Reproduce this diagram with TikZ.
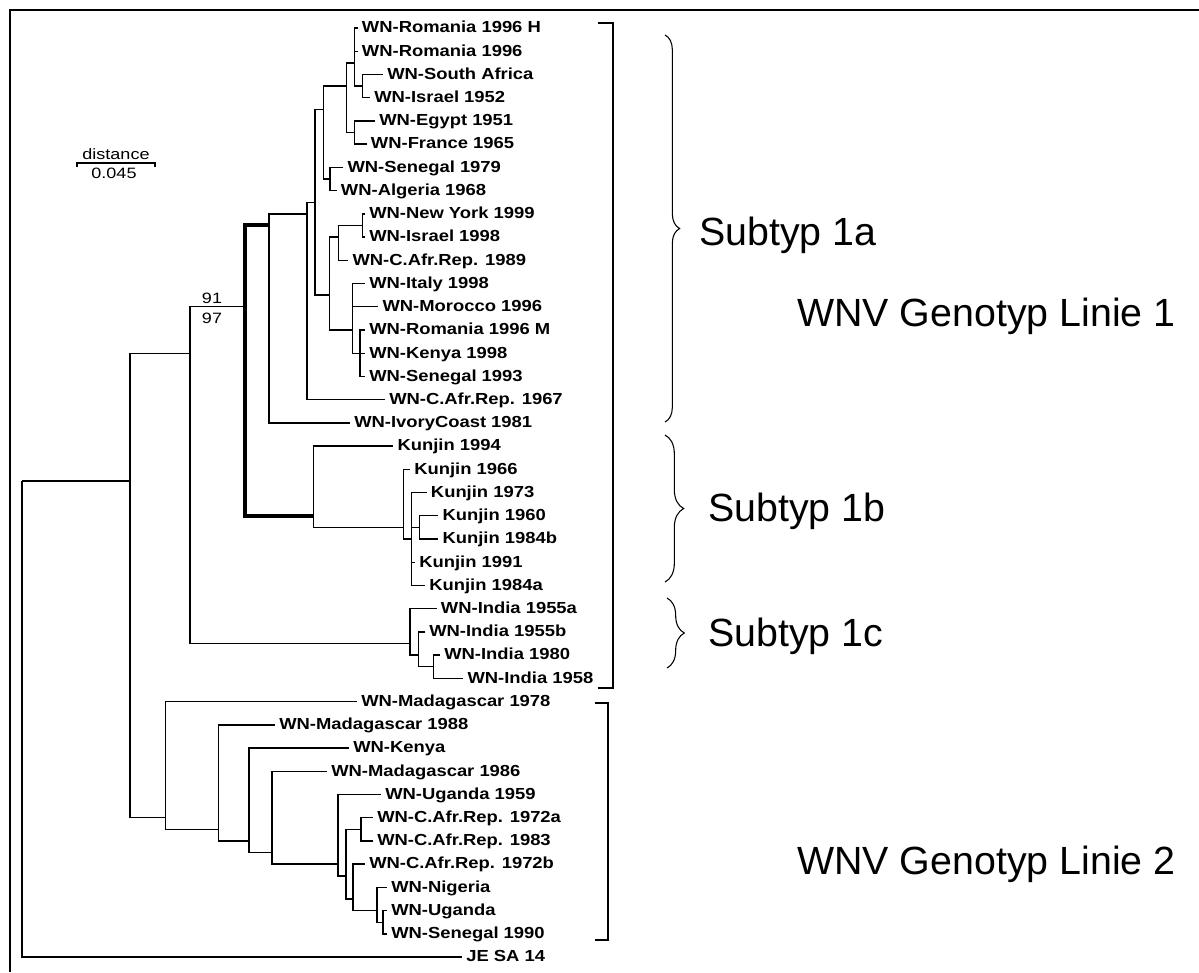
\documentclass[tikz,border=0pt]{standalone}
\usepackage{fontspec}
\setmainfont{Liberation Sans}
\newfontfamily\labfont[FakeStretch=1.15]{Liberation Sans}
\newfontfamily\smallfont[FakeStretch=1.2]{Liberation Sans}
\newfontfamily\bigfont{Liberation Sans}
\usetikzlibrary{decorations.pathreplacing}
\tikzset{
  tree/.style={line width=1.05pt},
  thickbranch/.style={line width=3pt},
  lab/.style={anchor=west, inner sep=0pt, xshift=3pt, text height=0.72em, text depth=0pt,
    font=\labfont\bfseries\fontsize{12}{13}\selectfont},
  small/.style={inner sep=0pt, font=\smallfont\fontsize{11.25}{12}\selectfont},
  bracketline/.style={line width=1.5pt},
  curly/.style={line width=0.8pt, decorate, decoration={brace, amplitude=#1}},
  grouplab/.style={anchor=base west, inner sep=0pt, font=\bigfont\fontsize{29.5}{32}\selectfont},
}
\begin{document}
\begin{tikzpicture}[x=0.75pt,y=-0.75pt]
\useasboundingbox (0,0) rectangle (1199,972);
% frame
\draw[line width=1.9pt] (10,972) -- (10,10) -- (1199,10);

% internal nodes
\coordinate (root) at (22,480.9);
\coordinate (L) at (130,480.9);
\coordinate (M) at (190,353.2);
\coordinate (G) at (245,306.7);
\coordinate (F) at (269,225.4);
\coordinate (E) at (307,213.8);
\coordinate (D) at (315,202.2);
\coordinate (a6) at (323.3,109.3);
\coordinate (a4) at (346.7,86.1);
\coordinate (a1) at (354.3,62.9);
\coordinate (a2) at (362.3,86.1);
\coordinate (a3) at (354.3,132.5);
\coordinate (a5) at (330,179.0);
\coordinate (b1) at (329.3,295.1);
\coordinate (b3) at (338.3,237.0);
\coordinate (b2) at (362.3,225.4);
\coordinate (b4) at (352.7,330.0);
\coordinate (b5) at (360,353.2);
\coordinate (K) at (313.3,515.7);
\coordinate (k1) at (403.3,527.4);
\coordinate (k2) at (411.7,539.0);
\coordinate (k4) at (419.3,527.4);
\coordinate (I) at (410,643.5);
\coordinate (i2) at (418.3,655.1);
\coordinate (i3) at (433.3,666.7);
\coordinate (L2) at (165.6,817.7);
\coordinate (L3) at (218.6,829.3);
\coordinate (L4) at (249,840.9);
\coordinate (L5) at (272,852.5);
\coordinate (L6) at (338,864.1);
\coordinate (L7) at (346,875.8);
\coordinate (L8) at (361,829.3);
\coordinate (L9) at (353,899.0);
\coordinate (L10) at (377,910.6);
\coordinate (L11) at (383,922.2);

% leaf tips
\coordinate (t1) at (357.7,28.0);
\coordinate (t2) at (357.7,51.2);
\coordinate (t3) at (383,74.5);
\coordinate (t4) at (370,97.7);
\coordinate (t5) at (375,120.9);
\coordinate (t6) at (366.7,144.1);
\coordinate (t7) at (343.3,167.4);
\coordinate (t8) at (336.7,190.6);
\coordinate (t9) at (365,213.8);
\coordinate (t10) at (365,237.0);
\coordinate (t11) at (348.3,260.3);
\coordinate (t12) at (365,283.5);
\coordinate (t13) at (378.3,306.7);
\coordinate (t14) at (365,329.9);
\coordinate (t15) at (365,353.2);
\coordinate (t16) at (365,376.4);
\coordinate (t17) at (385,399.6);
\coordinate (t18) at (350,422.8);
\coordinate (t19) at (393.3,446.1);
\coordinate (t20) at (410,469.3);
\coordinate (t21) at (426.7,492.5);
\coordinate (t22) at (438.3,515.7);
\coordinate (t23) at (438.3,539.0);
\coordinate (t24) at (415,562.2);
\coordinate (t25) at (425,585.4);
\coordinate (t26) at (436.7,608.6);
\coordinate (t27) at (425,631.9);
\coordinate (t28) at (440,655.1);
\coordinate (t29) at (463.3,678.3);
\coordinate (t30) at (357,701.5);
\coordinate (t31) at (275,724.8);
\coordinate (t32) at (349,748.0);
\coordinate (t33) at (327,771.2);
\coordinate (t34) at (381,794.4);
\coordinate (t35) at (373,817.7);
\coordinate (t36) at (373,840.9);
\coordinate (t37) at (365,864.1);
\coordinate (t38) at (387,887.3);
\coordinate (t39) at (387,910.6);
\coordinate (t40) at (387,933.8);
\coordinate (t41) at (462,957.0);

% labels
\node[lab] (n1) at (t1) {WN-Romania 1996 H};
\node[lab] (n2) at (t2) {WN-Romania 1996};
\node[lab] (n3) at (t3) {WN-South Africa};
\node[lab] (n4) at (t4) {WN-Israel 1952};
\node[lab] (n5) at (t5) {WN-Egypt 1951};
\node[lab] (n6) at (t6) {WN-France 1965};
\node[lab] (n7) at (t7) {WN-Senegal 1979};
\node[lab] (n8) at (t8) {WN-Algeria 1968};
\node[lab] (n9) at (t9) {WN-New York 1999};
\node[lab] (n10) at (t10) {WN-Israel 1998};
\node[lab] (n11) at (t11) {WN-C.Afr.Rep. 1989};
\node[lab] (n12) at (t12) {WN-Italy 1998};
\node[lab] (n13) at (t13) {WN-Morocco 1996};
\node[lab] (n14) at (t14) {WN-Romania 1996 M};
\node[lab] (n15) at (t15) {WN-Kenya 1998};
\node[lab] (n16) at (t16) {WN-Senegal 1993};
\node[lab] (n17) at (t17) {WN-C.Afr.Rep. 1967};
\node[lab] (n18) at (t18) {WN-IvoryCoast 1981};
\node[lab] (n19) at (t19) {Kunjin 1994};
\node[lab] (n20) at (t20) {Kunjin 1966};
\node[lab] (n21) at (t21) {Kunjin 1973};
\node[lab] (n22) at (t22) {Kunjin 1960};
\node[lab] (n23) at (t23) {Kunjin 1984b};
\node[lab] (n24) at (t24) {Kunjin 1991};
\node[lab] (n25) at (t25) {Kunjin 1984a};
\node[lab] (n26) at (t26) {WN-India 1955a};
\node[lab] (n27) at (t27) {WN-India 1955b};
\node[lab] (n28) at (t28) {WN-India 1980};
\node[lab] (n29) at (t29) {WN-India 1958};
\node[lab] (n30) at (t30) {WN-Madagascar 1978};
\node[lab] (n31) at (t31) {WN-Madagascar 1988};
\node[lab] (n32) at (t32) {WN-Kenya};
\node[lab] (n33) at (t33) {WN-Madagascar 1986};
\node[lab] (n34) at (t34) {WN-Uganda 1959};
\node[lab] (n35) at (t35) {WN-C.Afr.Rep. 1972a};
\node[lab] (n36) at (t36) {WN-C.Afr.Rep. 1983};
\node[lab] (n37) at (t37) {WN-C.Afr.Rep. 1972b};
\node[lab] (n38) at (t38) {WN-Nigeria};
\node[lab] (n39) at (t39) {WN-Uganda};
\node[lab] (n40) at (t40) {WN-Senegal 1990};
\node[lab] (n41) at (t41) {JE SA 14};

% branches: subtype 1a
\draw[tree] (a1) |- (t1);
\draw[tree] (a1) |- (t2);
\draw[tree] (a1) |- (a2);
\draw[tree] (a2) |- (t3);
\draw[tree] (a2) |- (t4);
\draw[tree] (a3) |- (t5);
\draw[tree] (a3) |- (t6);
\draw[tree] (a4) |- (a1);
\draw[tree] (a4) |- (a3);
\draw[tree] (a5) |- (t7);
\draw[tree] (a5) |- (t8);
\draw[tree] (a6) |- (a4);
\draw[tree] (a6) |- (a5);
\draw[tree] (b2) |- (t9);
\draw[tree] (b2) |- (t10);
\draw[tree] (b3) |- (b2);
\draw[tree] (b3) |- (t11);
\draw[tree] (b4) |- (t12);
\draw[tree] (b4) |- (t13);
\draw[tree] (b4) |- (b5);
\draw[tree] (b5) |- (t14);
\draw[tree] (b5) |- (t15);
\draw[tree] (b5) |- (t16);
\draw[tree] (b1) |- (b3);
\draw[tree] (b1) |- (b4);
\draw[tree] (D) |- (a6);
\draw[tree] (D) |- (b1);
\draw[tree] (E) |- (D);
\draw[tree] (E) |- (t17);
\draw[tree] (F) |- (E);
\draw[tree] (F) |- (t18);
% subtype 1b
\draw[tree] (K) |- (t19);
\draw[tree] (K) |- (k1);
\draw[tree] (k1) |- (t20);
\draw[tree] (k1) |- (k2);
\draw[tree] (k2) |- (t21);
\draw[tree] (k2) |- (k4);
\draw[tree] (k2) |- (t24);
\draw[tree] (k2) |- (t25);
\draw[tree] (k4) |- (t22);
\draw[tree] (k4) |- (t23);
% thick branch
\draw[thickbranch] (F) -| (G) |- (K);
% subtype 1c
\draw[tree] (I) |- (t26);
\draw[tree] (I) |- (i2);
\draw[tree] (i2) |- (t27);
\draw[tree] (i2) |- (i3);
\draw[tree] (i3) |- (t28);
\draw[tree] (i3) |- (t29);
\draw[tree] (M) |- (G);
\draw[tree] (M) |- (I);
% lineage 2
\draw[tree] (L2) |- (t30);
\draw[tree] (L2) |- (L3);
\draw[tree] (L3) |- (t31);
\draw[tree] (L3) |- (L4);
\draw[tree] (L4) |- (t32);
\draw[tree] (L4) |- (L5);
\draw[tree] (L5) |- (t33);
\draw[tree] (L5) |- (L6);
\draw[tree] (L6) |- (t34);
\draw[tree] (L6) |- (L7);
\draw[tree] (L7) |- (L8);
\draw[tree] (L7) |- (L9);
\draw[tree] (L8) |- (t35);
\draw[tree] (L8) |- (t36);
\draw[tree] (L9) |- (t37);
\draw[tree] (L9) |- (L10);
\draw[tree] (L10) |- (t38);
\draw[tree] (L10) |- (L11);
\draw[tree] (L11) |- (t39);
\draw[tree] (L11) |- (t40);
% backbone
\draw[tree] (L) |- (M);
\draw[tree] (L) |- (L2);
\draw[tree] (root) -- (L);
\draw[tree] (root) |- (t41);

% bootstrap values
\node[small] (bs1) at (212,298) {91};
\node[small] (bs2) at (212,318) {97};

% scale bar
\coordinate (sb1) at (77,163);
\coordinate (sb2) at (155,163);
\draw[line width=0.9pt] ([yshift=-3pt]sb1) -- (sb1) -- (sb2) -- ([yshift=-3pt]sb2);
\node[small] (dist) at (116,154) {distance};
\node[small] (dval) at (114,173) {0.045};

% brackets
\draw[bracketline] (598,23) -- (613,23) -- (613,688) -- (598,688);
\draw[bracketline] (595,703) -- (608,703) -- (608,940) -- (595,940);

% braces
\draw[curly=11pt] (665,35) -- (665,422);
\draw[curly=14pt] (665,435) -- (665,582);
\draw[curly=13pt] (667,598) -- (667,668);

% group labels
\node[grouplab] (s1a) at (699,245) {Subtyp 1a};
\node[grouplab] (s1b) at (708,521) {Subtyp 1b};
\node[grouplab] (s1c) at (708,646) {Subtyp 1c};
\node[grouplab] (g1) at (797,326) {WNV Genotyp Linie 1};
\node[grouplab] (g2) at (797,874) {WNV Genotyp Linie 2};
\end{tikzpicture}
\end{document}
